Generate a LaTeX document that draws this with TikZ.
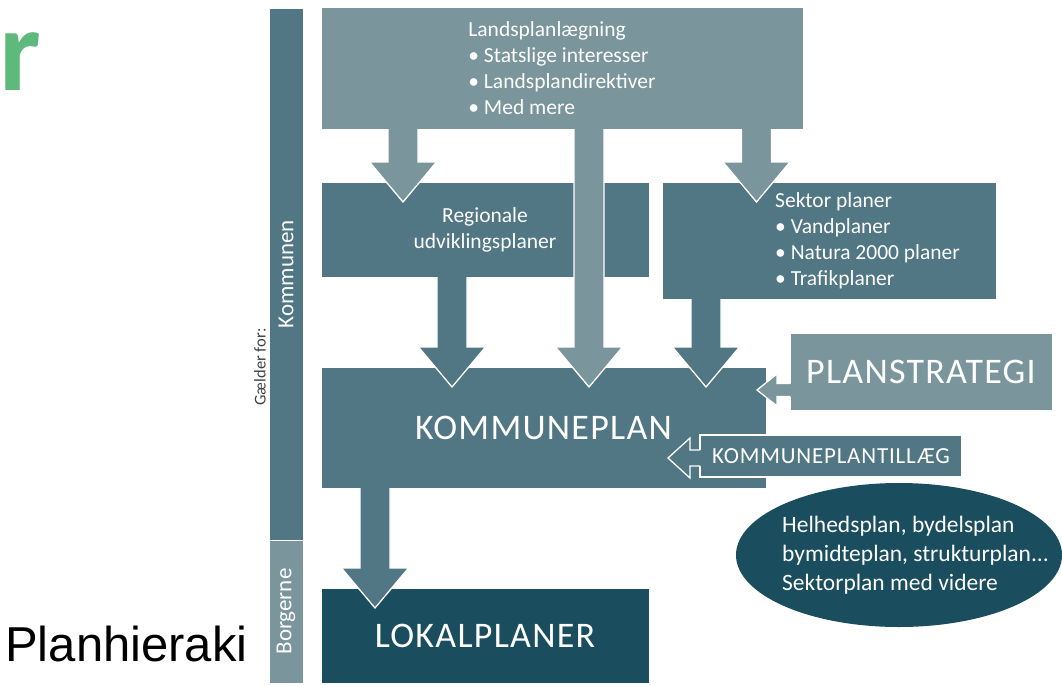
\documentclass[tikz,border=0pt]{standalone}
\usepackage{fontspec}
\setmainfont{Carlito}
\newfontfamily\arialfont{Liberation Sans}
\usetikzlibrary{shapes,shapes.geometric,calc,positioning}
\definecolor{lys}{HTML}{7A969C}
\definecolor{mellem}{HTML}{517684}
\definecolor{moerk}{HTML}{1A4D5E}
\definecolor{groen}{HTML}{5EBA7C}

\newcommand\nedpil[3][]{%
	\fill[#1] let \p1=#2, \p2=#3 in
		(\x1-15pt,\y1+1.5pt) -- (\x1-15pt,\y2+20pt) -- (\x1-33.5pt,\y2+20pt) -- (\x1,\y2-20pt)
		-- (\x1+33.5pt,\y2+20pt) -- (\x1+15pt,\y2+20pt) -- (\x1+15pt,\y1+1.5pt) -- cycle;
	\draw[pilkant] let \p1=#2, \p2=#3 in
		(\x1-15pt,\y1) -- (\x1-15pt,\y2+20pt) -- (\x1-33.5pt,\y2+20pt) -- (\x1,\y2-20pt)
		-- (\x1+33.5pt,\y2+20pt) -- (\x1+15pt,\y2+20pt) -- (\x1+15pt,\y1);}
\newcommand\venstrepil[6][]{%
	\fill[#1] let \p1=#2, \p2=#3 in
		(\x1+1.5pt,\y1+#4) -- (\x2+#6,\y1+#4) -- (\x2+#6,\y1+#5) -- (\x2,\y1)
		-- (\x2+#6,\y1-#5) -- (\x2+#6,\y1-#4) -- (\x1+1.5pt,\y1-#4) -- cycle;
	\draw[pilkant] let \p1=#2, \p2=#3 in
		(\x1,\y1+#4) -- (\x2+#6,\y1+#4) -- (\x2+#6,\y1+#5) -- (\x2,\y1)
		-- (\x2+#6,\y1-#5) -- (\x2+#6,\y1-#4) -- (\x1,\y1-#4);}

\begin{document}
\begin{tikzpicture}[x=1pt,y=-1pt,
	boks/.style={rectangle,inner sep=0pt,outer sep=0pt,draw=white,line width=.8pt,
		text=white,anchor=north west},
	pilkant/.style={draw=white,line width=1.3pt},
	broed/.style={font=\fontsize{21.5}{26}\selectfont},
	stor/.style={font=\fontsize{36}{40}\selectfont\addfontfeature{LetterSpace=3.5}},
	side/.style={rotate=90,text=white,font=\fontsize{23}{26}\selectfont}]
	\useasboundingbox (0,0) rectangle (1062,685);

	\node[boks,fill=mellem,minimum width=34pt,minimum height=532pt] (kommunen) at (269,8) {};
	\node[boks,fill=lys,minimum width=34pt,minimum height=143pt] (borgerne) at (269,540) {};
	\node[side] (kommunen-tekst) at (kommunen.center) {Kommunen};
	\node[side] (borgerne-tekst) at (borgerne.center) {Borgerne};
	\node[rotate=90,text=black!75,font=\fontsize{16.5}{18}\selectfont] (gaelder) at (260,367) {Gælder for:};

	\node[boks,broed,fill=lys,align=left,minimum width=482pt,minimum height=122pt] (landsplan) at (321,7)
		{Landsplanlægning\\\textbullet\ Statslige interesser\\\textbullet\ Landsplandirektiver\\\textbullet\ Med mere};
	\node[boks,broed,fill=mellem,align=center,minimum width=328pt,minimum height=95pt] (regionale) at (321,182)
		{Regionale\\udviklingsplaner};
	\node[boks,fill=mellem,minimum width=334pt,minimum height=117pt] (sektor) at (662,182) {};
	\node[broed,text=white,align=left,anchor=west,inner sep=0pt] (sektor-tekst) at (775,241)
		{Sektor planer\\\textbullet\ Vandplaner\\\textbullet\ Natura 2000 planer\\\textbullet\ Trafikplaner};

	\nedpil[lys]{($(landsplan.south west)+(82,0)$)}{(regionale.north)}
	\nedpil[lys]{($(landsplan.south west)+(435.5,0)$)}{(sektor.north)}

	\node[boks,stor,fill=mellem,minimum width=445pt,minimum height=121pt] (kommuneplan) at (321,367) {KOMMUNEPLAN};
	\nedpil[mellem]{($(regionale.south west)+(131,0)$)}{(kommuneplan.north)}
	\nedpil[mellem]{($(sektor.south west)+(44,0)$)}{(kommuneplan.north)}
	\nedpil[lys]{($(landsplan.south west)+(268,0)$)}{(kommuneplan.north)}

	\node[boks,stor,fill=lys,minimum width=262pt,minimum height=77pt] (planstrategi) at (790,333) {PLANSTRATEGI};
	\venstrepil[lys]{($(planstrategi.west)+(0,18.5)$)}{($(kommuneplan.east)+(-9,0)$)}{6.5pt}{16pt}{20pt}
	\node[boks,fill=mellem,line width=1.3pt,font=\fontsize{23}{26}\selectfont\addfontfeature{LetterSpace=3.5},
		minimum width=262pt,minimum height=42pt] (tillaeg) at (700,435) {KOMMUNEPLANTILLÆG};
	\venstrepil[mellem]{($(tillaeg.west)+(0,2)$)}{($(kommuneplan.east)+(-98,0)$)}{8pt}{20pt}{22pt}

	\node[boks,stor,fill=moerk,minimum width=328pt,minimum height=95pt] (lokalplaner) at (321,588) {LOKALPLANER};
	\nedpil[mellem]{($(kommuneplan.south west)+(54,0)$)}{(lokalplaner.north)}

	\node[ellipse,fill=moerk,inner sep=0pt,minimum width=326pt,minimum height=144pt] (helhed) at (899,555) {};
	\node[text=white,align=left,anchor=west,inner sep=0pt,font=\fontsize{23.5}{29}\selectfont] (helhed-tekst) at (782,555)
		{Helhedsplan, bydelsplan\\bymidteplan, strukturplan...\\Sektorplan med videre};

	\node[anchor=base west,inner sep=0pt,text=groen,font=\fontsize{117}{117}\selectfont\bfseries] (titel) at (-1,90) {r};
	\node[anchor=base west,inner sep=0pt,font=\arialfont\fontsize{49}{49}\selectfont] (planhieraki) at (5,661) {Planhieraki};
\end{tikzpicture}
\end{document}
